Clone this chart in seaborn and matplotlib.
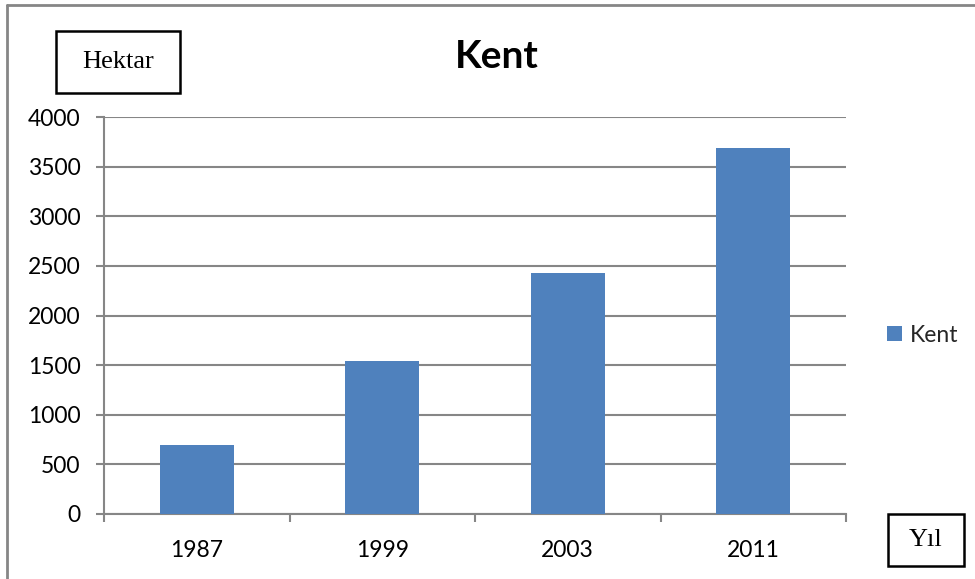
import matplotlib
matplotlib.use("Agg")
import matplotlib.pyplot as plt
from matplotlib.lines import Line2D
from matplotlib.patches import Patch
import seaborn as sns
import pandas as pd

years = ["1987", "1999", "2003", "2011"]
kent_area = [692, 1545, 2425, 3688]
series_name = "Kent"
y_ticks = [0, 500, 1000, 1500, 2000, 2500, 3000, 3500, 4000]

bar_color = "#4F81BD"
grid_color = "#868686"

sns.set_theme(style="white")
plt.rcParams["font.family"] = ["Lato", "DejaVu Sans"]

W, H = 975, 579
fig = plt.figure(figsize=(W / 100, H / 100), dpi=100)
ax = fig.add_axes([104 / W, (H - 514) / H, (846 - 104) / W, (514 - 117) / H])

df = pd.DataFrame({"Yıl": years, "Hektar": kent_area})
sns.barplot(data=df, x="Yıl", y="Hektar", color=bar_color, width=0.4,
            saturation=1, ax=ax, zorder=3, linewidth=0)

ax.set_xlim(-0.5, len(years) - 0.5)
ax.set_ylim(0, 4000)
ax.set_yticks(y_ticks)
ax.set_yticklabels([str(v) for v in y_ticks])
ax.yaxis.grid(True, color=grid_color, linewidth=1.5, zorder=0)
ax.set_axisbelow(True)
ax.set_xlabel("")
ax.set_ylabel("")

for side in ["top", "right"]:
    ax.spines[side].set_visible(False)
for side in ["left", "bottom"]:
    ax.spines[side].set_color(grid_color)
    ax.spines[side].set_linewidth(1.5)

# category separators as minor ticks, labels on centered major ticks
ax.set_xticks([i - 0.5 for i in range(len(years) + 1)], minor=True)
ax.tick_params(axis="x", which="minor", length=6, width=1.5, color=grid_color,
               direction="out", bottom=True)
ax.tick_params(axis="x", which="major", length=0, pad=19, labelsize=16.5,
               labelcolor="black", bottom=True)
ax.tick_params(axis="y", which="major", length=6, width=1.5, color=grid_color,
               direction="out", pad=11, labelsize=16.5, labelcolor="black", left=True)

fig.text(497 / W, 1 - 57 / H, "Kent", ha="center", va="center",
         fontsize=28, fontweight="bold", color="black")

fig.legend(handles=[Patch(facecolor=bar_color, edgecolor="none", label=series_name)],
           loc="center left", bbox_to_anchor=(887 / W, 1 - 335 / H), frameon=False,
           fontsize=16.5, handlelength=0.65, handleheight=0.65, handletextpad=0.35,
           borderaxespad=0, borderpad=0)

for label, (x0, y0, x1, y1) in [("Hektar", (56, 31, 180, 93)), ("Yıl", (888, 514, 964, 566))]:
    fig.patches.append(plt.Rectangle((x0 / W, 1 - y1 / H), (x1 - x0) / W, (y1 - y0) / H,
                                     transform=fig.transFigure, facecolor="white",
                                     edgecolor="black", linewidth=1.8))
    fig.text((x0 + x1) / 2 / W, 1 - (y0 + y1) / 2 / H, label, ha="center", va="center",
             fontsize=19, family="Liberation Serif", color="black")

# chart frame (top and left edges)
fig.add_artist(Line2D([7 / W, 1], [1 - 5 / H, 1 - 5 / H], transform=fig.transFigure,
                      color=grid_color, linewidth=2))
fig.add_artist(Line2D([7 / W, 7 / W], [0, 1 - 5 / H], transform=fig.transFigure,
                      color=grid_color, linewidth=2))

fig.savefig("out.png", dpi=100)
